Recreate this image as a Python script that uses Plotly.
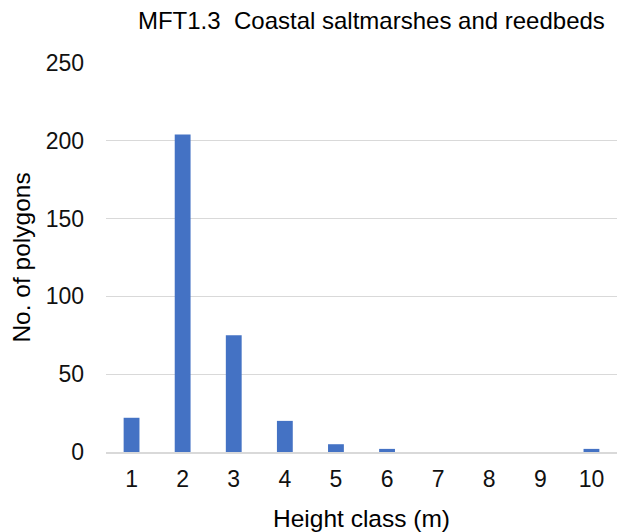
import plotly.graph_objects as go

categories = ["1", "2", "3", "4", "5", "6", "7", "8", "9", "10"]
counts = [22, 204, 75, 20, 5, 2, 0, 0, 0, 2]
y_ticks = [0, 50, 100, 150, 200, 250]

fig = go.Figure(go.Bar(x=categories, y=counts, marker_color="#4472C4",
                       marker_line_width=0))

FAM = "Liberation Sans, Arial, sans-serif"
fig.update_layout(
    width=619, height=532,
    margin=dict(l=106, r=2, t=63, b=80),
    paper_bgcolor="white", plot_bgcolor="white",
    bargap=0.69,
    font=dict(family=FAM, size=23, color="#000000"),
    title=dict(text="MFT1.3  Coastal saltmarshes and reedbeds", x=0.600, xanchor="center",
               y=0.962, yanchor="middle", font=dict(size=24, color="#000000")),
    showlegend=False,
)
fig.update_xaxes(type="category", showgrid=False, showline=True, linecolor="#d9d9d9",
                 linewidth=1.5, ticks="", tickfont=dict(size=23, color="#111111"),
                 ticklabelstandoff=6,
                 title=dict(text="Height class (m)", font=dict(size=24.5, color="#000000"),
                            standoff=19))
fig.update_yaxes(range=[0, 250], tickvals=y_ticks, showgrid=True, gridcolor="#d9d9d9",
                 gridwidth=1, zeroline=False, ticks="", showline=False,
                 tickfont=dict(size=23, color="#111111"), ticklabelstandoff=21,
                 title=dict(text="No. of polygons", font=dict(size=24.5, color="#000000"),
                            standoff=8))
fig.write_html("out.html", config={"displayModeBar": False},
               post_script="document.body.style.margin='0';")
